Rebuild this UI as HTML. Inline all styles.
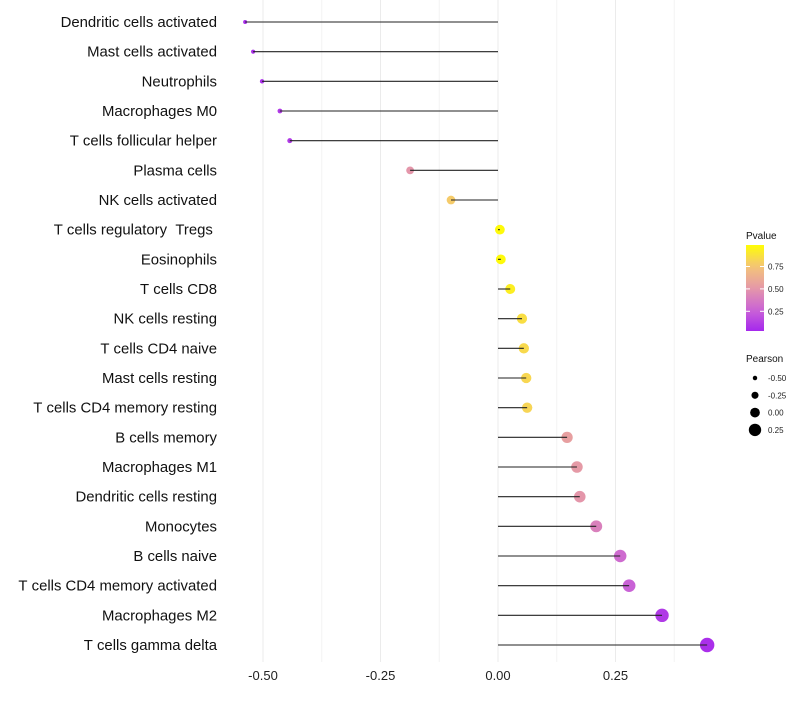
<!DOCTYPE html>
<html><head><meta charset="utf-8"><style>
body{margin:0;background:#fff;font-family:"Liberation Sans",sans-serif}
text{white-space:pre}
</style></head><body>
<svg id="c" width="800" height="700" xmlns="http://www.w3.org/2000/svg" xml:space="preserve"></svg>
<script>
const categories=["Dendritic cells activated","Mast cells activated","Neutrophils","Macrophages M0","T cells follicular helper","Plasma cells","NK cells activated","T cells regulatory  Tregs ","Eosinophils","T cells CD8","NK cells resting","T cells CD4 naive","Mast cells resting","T cells CD4 memory resting","B cells memory","Macrophages M1","Dendritic cells resting","Monocytes","B cells naive","T cells CD4 memory activated","Macrophages M2","T cells gamma delta"];
const pearson=[-0.538,-0.521,-0.502,-0.464,-0.443,-0.187,-0.100,0.004,0.006,0.026,0.051,0.055,0.060,0.062,0.147,0.168,0.174,0.209,0.260,0.279,0.349,0.445];
const pvalue=[0.05,0.06,0.06,0.1,0.1,0.5,0.78,0.98,0.98,0.93,0.86,0.84,0.83,0.82,0.55,0.52,0.5,0.4,0.3,0.26,0.1,0.06];
const xTicks=[-0.5,-0.25,0,0.25];
const xTickLabels=["-0.50","-0.25","0.00","0.25"];
const sizeLegend=[-0.5,-0.25,0,0.25];
const sizeLegendLabels=["-0.50","-0.25","0.00","0.25"];
const pLegendTicks=[0.25,0.5,0.75];
const pLegendLabels=["0.25","0.50","0.75"];

const svg=document.getElementById('c');
const NS="http://www.w3.org/2000/svg";
function mk(t,a){const e=document.createElementNS(NS,t);for(const k in a)e.setAttribute(k,a[k]);svg.appendChild(e);return e;}
const x=v=>498+v*470;
const y=i=>22+i*29.667;
const r=v=>2+(v+0.54)*5.3;
const stops=[[0,[160,32,240]],[0.25,[200,96,216]],[0.5,[228,150,170]],[0.75,[244,196,120]],[1,[255,255,0]]];
function col(p){for(let i=0;i<stops.length-1;i++){const a=stops[i],b=stops[i+1];if(p<=b[0]){const t=(p-a[0])/(b[0]-a[0]);return 'rgb('+a[1].map((c,j)=>Math.round(c+(b[1][j]-c)*t)).join(',')+')';}}return 'rgb(255,255,0)';}

const minor=[-0.375,-0.125,0.125,0.375];
minor.forEach(v=>{const g=mk('line',{x1:x(v),x2:x(v),y1:0,y2:662,stroke:'#f4f4f4','stroke-width':1});});
xTicks.forEach((v,i)=>{const g=mk('line',{x1:x(v),x2:x(v),y1:0,y2:662,stroke:'#ebebeb','stroke-width':1});
const t=mk('text',{x:x(v),y:680,'text-anchor':'middle','font-size':13,fill:'#222'});t.textContent=xTickLabels[i];});

categories.forEach((c,i)=>{
const t=mk('text',{x:217,y:y(i)+5,'text-anchor':'end','font-size':14.9,fill:'#111'});t.textContent=c.replace(/ /g,'\u00a0');


const p=mk('circle',{cx:x(pearson[i]),cy:y(i),r:r(pearson[i]),fill:col(pvalue[i])});


const l=mk('line',{x1:x(0),x2:x(pearson[i]),y1:y(i),y2:y(i),stroke:'#222','stroke-width':1.1});


});

const defs=document.createElementNS(NS,'defs');svg.appendChild(defs);
const lg=document.createElementNS(NS,'linearGradient');lg.setAttribute('id','pg');lg.setAttribute('x1',0);lg.setAttribute('y1',1);lg.setAttribute('x2',0);lg.setAttribute('y2',0);defs.appendChild(lg);
const pMin=0.03,pMax=0.99;
for(let k=0;k<=10;k++){const p=pMin+(pMax-pMin)*k/10;const s=document.createElementNS(NS,'stop');s.setAttribute('offset',k/10);s.setAttribute('stop-color',col(p));lg.appendChild(s);}
const lt=mk('text',{x:746,y:239,'font-size':10,fill:'#111'});lt.textContent='Pvalue';
const bar=mk('rect',{x:746,y:245,width:18,height:86,fill:'url(#pg)'});
const py=p=>331-(p-pMin)/(pMax-pMin)*86;
pLegendTicks.forEach((p,i)=>{mk('line',{x1:746,x2:750,y1:py(p),y2:py(p),stroke:'#fff'});mk('line',{x1:760,x2:764,y1:py(p),y2:py(p),stroke:'#fff'});
const t=mk('text',{x:768,y:py(p)+3,'font-size':8,fill:'#222'});t.textContent=pLegendLabels[i];});
const st=mk('text',{x:746,y:362,'font-size':10,fill:'#111'});st.textContent='Pearson';
sizeLegend.forEach((v,i)=>{const yy=378+i*17.3;const c=mk('circle',{cx:755,cy:yy,r:r(v),fill:'#000'});
const t=mk('text',{x:768,y:yy+3,'font-size':8,fill:'#222'});t.textContent=sizeLegendLabels[i];});
</script>
</body></html>
